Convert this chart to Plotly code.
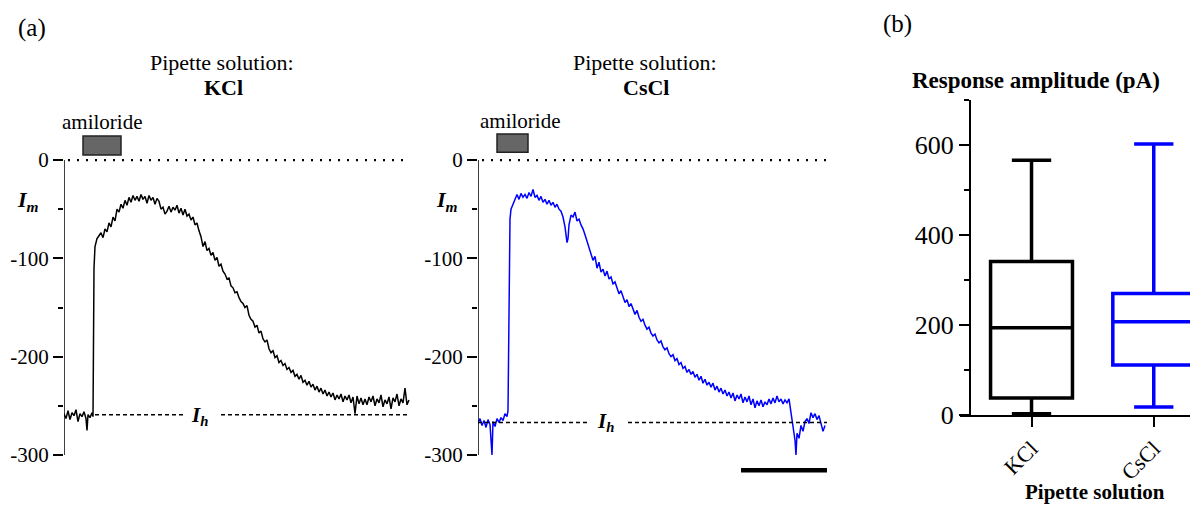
import plotly.graph_objects as go

# ---------------- data ----------------
# Panel (a) left: KCl pipette solution (time in arbitrary units, current in pA)
kcl_t = [0, 2, 4, 6, 8, 10, 12, 14, 16, 18, 20, 22, 23, 24, 26, 28, 29, 30, 31, 33, 35, 37, 39, 41, 43, 45,
         47, 49, 51, 53, 55, 57, 59, 61, 63, 65, 67, 69, 71, 73, 75, 77, 79, 81, 83, 85, 87, 89, 91, 93, 95,
         97, 99, 101, 103, 105, 107, 109, 111, 113, 115, 117, 119, 121, 123, 125, 127, 129, 131, 133, 135,
         137, 139, 141, 143, 145, 147, 149, 151, 153, 155, 157, 159, 161, 163, 165, 167, 169, 171, 173, 175,
         177, 179, 181, 183, 185, 187, 189, 191, 193, 195, 197, 199, 201, 203, 205, 207, 209, 211, 213, 215,
         217, 219, 221, 223, 225, 227, 229, 231, 233, 235, 237, 239, 241, 243, 245, 247, 249, 251, 253, 255,
         257, 259, 261, 263, 265, 267, 269, 271, 273, 275, 277, 279, 281, 283, 285, 287, 289, 291, 293, 295,
         297, 299, 301, 303, 305, 307, 309, 311, 313, 315, 317, 319, 321, 323, 325, 327, 329, 331, 333, 335,
         337, 339, 341, 343, 345]
kcl_i = [-258, -263, -255, -264, -257, -260, -254, -266, -258, -261, -256, -263, -275, -259, -262, -257, -261,
         -110, -88, -80, -77, -74, -79, -70, -73, -64, -68, -58, -62, -50, -53, -45, -49, -41, -46, -38, -43,
         -36, -41, -37, -42, -35, -40, -37, -44, -36, -41, -38, -45, -39, -42, -50, -48, -55, -52, -47, -53,
         -48, -51, -46, -54, -49, -56, -50, -57, -55, -61, -58, -66, -64, -72, -78, -88, -83, -92, -90, -97,
         -94, -102, -99, -108, -106, -113, -116, -121, -120, -128, -130, -135, -134, -140, -144, -146, -150,
         -148, -158, -162, -164, -170, -168, -176, -174, -182, -185, -183, -192, -196, -194, -201, -199, -206,
         -204, -209, -207, -213, -211, -216, -214, -220, -218, -223, -219, -226, -224, -229, -225, -231, -228,
         -234, -230, -236, -232, -238, -234, -240, -236, -241, -237, -244, -239, -243, -238, -246, -240, -244,
         -239, -247, -241, -258, -240, -248, -242, -249, -243, -249, -241, -246, -240, -250, -243, -247, -239,
         -251, -244, -248, -241, -253, -242, -246, -238, -250, -243, -247, -232, -249, -244]

# Panel (a) right: CsCl pipette solution
cscl_t = [0, 2, 4, 6, 8, 10, 12, 14, 15, 17, 19, 21, 23, 25, 27, 29, 30, 31, 32, 33, 35, 37, 39, 41, 43, 45,
          47, 49, 51, 53, 55, 57, 59, 61, 63, 65, 67, 69, 71, 73, 75, 77, 79, 81, 83, 85, 87, 89, 90, 91, 93,
          95, 97, 99, 101, 103, 105, 107, 109, 111, 113, 115, 117, 119, 121, 123, 125, 127, 129, 131, 133, 135,
          137, 139, 141, 143, 145, 147, 149, 151, 153, 155, 157, 159, 161, 163, 165, 167, 169, 171, 173, 175,
          177, 179, 181, 183, 185, 187, 189, 191, 193, 195, 197, 199, 201, 203, 205, 207, 209, 211, 213, 215,
          217, 219, 221, 223, 225, 227, 229, 231, 233, 235, 237, 239, 241, 243, 245, 247, 249, 251, 253, 255,
          257, 259, 261, 263, 265, 267, 269, 271, 273, 275, 277, 279, 281, 283, 285, 287, 289, 291, 293, 295,
          297, 299, 301, 303, 305, 307, 309, 311, 313, 315, 317, 318, 319, 321, 323, 325, 327, 329, 331, 333,
          335, 337, 339, 341, 343, 345, 347]
cscl_i = [-268, -263, -270, -265, -272, -264, -269, -300, -266, -271, -263, -267, -262, -265, -258, -261, -255,
          -180, -60, -50, -45, -40, -35, -40, -34, -38, -35, -39, -33, -37, -30, -38, -36, -41, -37, -43, -40,
          -45, -41, -46, -43, -48, -45, -50, -52, -58, -68, -84, -80, -66, -56, -58, -53, -62, -60, -66, -70,
          -76, -82, -88, -96, -102, -98, -110, -104, -114, -111, -118, -113, -121, -119, -126, -124, -131, -136,
          -133, -140, -145, -142, -149, -146, -152, -157, -153, -160, -164, -162, -168, -172, -170, -176, -179,
          -177, -183, -186, -184, -190, -193, -191, -197, -200, -198, -204, -202, -208, -206, -212, -210, -216,
          -213, -218, -215, -221, -218, -224, -220, -227, -223, -229, -226, -231, -227, -234, -230, -236, -232,
          -238, -234, -240, -236, -242, -237, -245, -239, -243, -238, -247, -241, -246, -240, -249, -243, -252,
          -245, -250, -244, -251, -246, -249, -243, -248, -242, -247, -240, -246, -243, -248, -244, -247, -243,
          -258, -270, -285, -300, -278, -283, -270, -276, -266, -263, -268, -257, -262, -258, -264, -260, -267,
          -276, -270]

holding_current = {"KCl": -259, "CsCl": -267}   # I_h levels (pA)
amiloride_on = {"KCl": [19, 57], "CsCl": [19, 50]}
scale_bar_t = [263, 349]

# Panel (b): box plot summary, response amplitude (pA)
box_groups = ["KCl", "CsCl"]
box_min = [3, 18]
box_q1 = [38, 111]
box_median = [194, 207]
box_q3 = [341, 270]
box_max = [566, 602]
box_colors = ["#000000", "#0000ff"]

FONT = "Liberation Serif"
OFF = 8                       # page body margin
W, H = 1198 - 2 * OFF, 515 - 2 * OFF


def px(x):
    return (x - OFF) / W


def py(y):
    return 1 - (y - OFF) / H


fig = go.Figure()

fig.add_trace(go.Scatter(x=kcl_t, y=kcl_i, mode="lines", line=dict(color="black", width=1.5),
                         xaxis="x", yaxis="y", hoverinfo="skip"))
fig.add_trace(go.Scatter(x=cscl_t, y=cscl_i, mode="lines", line=dict(color="#0000ff", width=1.5),
                         xaxis="x2", yaxis="y2", hoverinfo="skip"))

for g, lo, q1, med, q3, hi, col in zip(box_groups, box_min, box_q1, box_median, box_q3, box_max, box_colors):
    fig.add_trace(go.Box(x=[g], q1=[q1], median=[med], q3=[q3], lowerfence=[lo], upperfence=[hi],
                         name=g, line=dict(color=col, width=3.5), fillcolor="rgba(0,0,0,0)",
                         whiskerwidth=0.48, width=0.67, boxpoints=False,
                         xaxis="x3", yaxis="y3"))

ydom = [py(476.6), py(132.5)]
yax_a = dict(range=[-322, 28], domain=ydom, showline=False, showgrid=False, zeroline=False,
             ticks="outside", tickvals=[0, -100, -200, -300], ticktext=["0", "-100", "-200", "-300"],
             ticklen=10, tickwidth=1.5, tickcolor="black",
             tickfont=dict(family=FONT, size=21, color="black"),
             minor=dict(tickvals=[-50, -150, -250], ticklen=5, tickwidth=1.5, tickcolor="black",
                        ticks="outside", showgrid=False))

fig.update_layout(
    width=W, height=H, margin=dict(l=0, r=0, t=0, b=0, autoexpand=False),
    paper_bgcolor="white", plot_bgcolor="white", showlegend=False,
    font=dict(family=FONT, color="black"),
    xaxis=dict(domain=[px(64), px(412)], range=[0, 348], visible=False, anchor="y"),
    yaxis=dict(anchor="x", **yax_a),
    xaxis2=dict(domain=[px(478), px(828)], range=[0, 350], visible=False, anchor="y2"),
    yaxis2=dict(anchor="x2", **yax_a),
    xaxis3=dict(domain=[px(960), 1], range=[-0.585, 1.432 - 16 / 118], type="category", anchor="y3",
                showline=True, linewidth=2, linecolor="black", showgrid=False,
                ticks="outside", ticklen=10, tickwidth=2, tickcolor="black", tickangle=-45,
                tickfont=dict(family=FONT, size=22, color="black")),
    yaxis3=dict(domain=[py(415), py(100)], range=[0, 700], anchor="free", position=px(970),
                showline=True, linewidth=2, linecolor="black", showgrid=False, zeroline=False,
                ticks="outside", tickvals=[0, 200, 400, 600], ticklen=10, tickwidth=2, tickcolor="black",
                tickfont=dict(family=FONT, size=26, color="black"),
                minor=dict(tickvals=[100, 300, 500, 700], ticklen=5, tickwidth=2, tickcolor="black",
                           ticks="outside", showgrid=False)),
)

shapes = []
for xr, yr, name, t_end, gap in [("x", "y", "KCl", 346, (119, 157)), ("x2", "y2", "CsCl", 349, (110, 150))]:
    # y-axis line from -300 to 0
    shapes.append(dict(type="line", xref=xr, yref=yr, x0=0, x1=0, y0=-300, y1=0,
                       line=dict(color="black", width=1.5)))
    # dotted zero line
    shapes.append(dict(type="line", xref=xr, yref=yr, x0=4, x1=t_end, y0=0, y1=0,
                       line=dict(color="black", width=2.2, dash="2px,7px")))
    # dashed holding-current line (with gap for the label)
    ih = holding_current[name]
    start = 31 if name == "KCl" else 0
    shapes.append(dict(type="line", xref=xr, yref=yr, x0=start, x1=gap[0], y0=ih, y1=ih,
                       line=dict(color="black", width=1.5, dash="4px,3px")))
    shapes.append(dict(type="line", xref=xr, yref=yr, x0=gap[1], x1=t_end, y0=ih, y1=ih,
                       line=dict(color="black", width=1.5, dash="4px,3px")))
    # amiloride application bar
    a0, a1 = amiloride_on[name]
    y_lo, y_hi = (5, 24.4) if name == "KCl" else (8, 26.4)
    shapes.append(dict(type="rect", xref=xr, yref=yr, x0=a0, x1=a1, y0=y_lo, y1=y_hi,
                       fillcolor="#666666", line=dict(color="#222222", width=1.5)))

# time scale bar under the CsCl trace
shapes.append(dict(type="line", xref="x2", yref="y2", x0=scale_bar_t[0], x1=scale_bar_t[1],
                   y0=-315.6, y1=-315.6, line=dict(color="black", width=4.5)))
fig.update_layout(shapes=shapes)


def ann(text, x, y, size, **kw):
    return dict(text=text, x=px(x), y=py(y), xref="paper", yref="paper", showarrow=False,
                xanchor=kw.pop("xanchor", "center"), yanchor=kw.pop("yanchor", "middle"),
                font=dict(family=FONT, size=size, color="black"), **kw)


annotations = [
    ann("(a)", 32, 28, 25),
    ann("(b)", 897, 24, 25),
    ann("Pipette solution:", 222, 62, 22),
    ann("<b>KCl</b>", 223, 88, 22),
    ann("Pipette solution:", 645, 62, 22),
    ann("<b>CsCl</b>", 646, 88, 22),
    ann("amiloride", 102, 122, 21),
    ann("amiloride", 520, 121, 21),
    ann("<b><i>I<sub>m</sub></i></b>", 28, 201, 22),
    ann("<b><i>I<sub>m</sub></i></b>", 447, 201, 22),
    ann("<b><i>I<sub>h</sub></i></b>", 199, 416, 21),
    ann("<b><i>I<sub>h</sub></i></b>", 605, 422, 21),
    ann("<b>Response amplitude (pA)</b>", 1036, 80, 23),
    ann("<b>Pipette solution</b>", 1095, 506, 21, yanchor="bottom"),
]
fig.update_layout(annotations=annotations)

fig.write_html("out.html")
